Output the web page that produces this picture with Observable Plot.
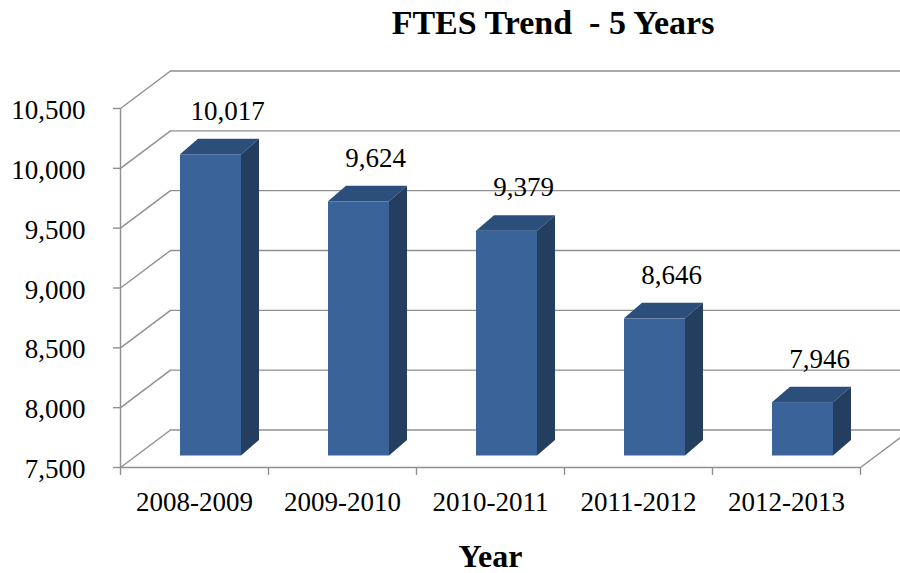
<!DOCTYPE html>
<html>
<head>
<meta charset="utf-8">
<script src="https://cdn.jsdelivr.net/npm/d3@7"></script>
<script src="https://cdn.jsdelivr.net/npm/@observablehq/plot@0.6"></script>
<style>
  html, body { margin: 0; padding: 0; background: #fff; }
  #wrap { width: 900px; height: 573px; position: relative; overflow: hidden; font-family: "Liberation Serif", "Times New Roman", serif; }
  #title { position: absolute; left: 0; top: 0; width: 900px; height: 45px; box-sizing: border-box; padding-left: 206px; text-align: center; font-weight: bold; font-size: 34px; line-height: 45px; color: #000; }
  #chart { position: absolute; left: 0; top: 45px; }
  #chart svg, #chart svg text { font-family: "Liberation Serif", "Times New Roman", serif !important; }
</style>
</head>
<body>
<div id="wrap">
  <div id="title">FTES Trend &nbsp;- 5 Years</div>
  <div id="chart"></div>
</div>
<script>
// ---- data ----
const years = ["2008-2009", "2009-2010", "2010-2011", "2011-2012", "2012-2013"];
const ftes = [10017, 9624, 9379, 8646, 7946];
const yTicks = [7500, 8000, 8500, 9000, 9500, 10000, 10500];
const yTickLabels = ["7,500", "8,000", "8,500", "9,000", "9,500", "10,000", "10,500"];
const xTitle = "Year";

// ---- layout (pixels) ----
const W = 900, H = 528;
const mL = 120, mR = 40, mT = 63, mB = 106;
const yMin = 7500, yMax = 10500;
const kx = (W - mL - mR) / years.length;      // px per category
const ky = (H - mT - mB) / (yMax - yMin);     // px per unit
const px = p => p / kx;                        // px -> x units
const pv = p => p / ky;                        // px -> y units

const wallDX = px(50), wallDY = pv(37.5);      // depth of the 3D box
const barOX = px(16.5), barOY = pv(11.5);      // bar front face offset into box
const barDX = px(18), barDY = pv(15.5);        // bar depth
const barHalf = px(30.5);                      // half width of bar front

const bars = years.map((yr, i) => ({
  i, yr, v: ftes[i],
  xl: i + 0.5 + barOX - barHalf,
  xr: i + 0.5 + barOX + barHalf
}));

const topFace = bars.flatMap(b => [
  {bar: b.i, y: b.v + barOY, x1: b.xl, x2: b.xr},
  {bar: b.i, y: b.v + barOY + barDY, x1: b.xl + barDX, x2: b.xr + barDX}
]);
const sideFace = bars.flatMap(b => [
  {bar: b.i, x: b.xr, y1: yMin + barOY, y2: b.v + barOY},
  {bar: b.i, x: b.xr + barDX, y1: yMin + barOY + barDY, y2: b.v + barOY + barDY}
]);

const grid = "#8f8f8f";
const fmt = d3.format(",");
const serif = "Liberation Serif";

const chart = Plot.plot({
  width: W, height: H,
  marginLeft: mL, marginRight: mR, marginTop: mT, marginBottom: mB,
  style: {fontFamily: serif, background: "#fff", overflow: "visible"},
  x: {type: "linear", domain: [0, years.length], axis: null},
  y: {type: "linear", domain: [yMin, yMax], axis: null},
  marks: [
    // back wall gridlines
    Plot.ruleY(yTicks, {y: d => d + wallDY, x1: wallDX, x2: px(W - mL) + 1, stroke: grid, strokeWidth: 1.4}),
    // side wall oblique lines
    Plot.link(yTicks, {x1: 0, y1: d => d, x2: wallDX, y2: d => d + wallDY, stroke: grid, strokeWidth: 1.4}),
    // left axis line
    Plot.ruleX([0], {y1: yMin, y2: yMax, stroke: grid, strokeWidth: 1.4}),
    // y ticks
    Plot.ruleY(yTicks, {x1: px(-7), x2: 0, stroke: grid, strokeWidth: 1.4}),
    // floor front edge and right diagonal
    Plot.ruleY([yMin], {x1: 0, x2: years.length, stroke: grid, strokeWidth: 1.4}),
    Plot.link([yMin], {x1: years.length, y1: d => d, x2: years.length + wallDX, y2: d => d + wallDY, stroke: grid, strokeWidth: 1.4}),
    // x ticks at category boundaries
    Plot.ruleX(d3.range(years.length + 1), {y1: yMin, y2: yMin - pv(8), stroke: grid, strokeWidth: 1.4}),
    // bars: front, top, side
    Plot.rect(bars, {x1: "xl", x2: "xr", y1: yMin + barOY, y2: d => d.v + barOY, fill: "#3a6499"}),
    Plot.areaX(topFace, {y: "y", x1: "x1", x2: "x2", z: "bar", fill: "#2c4e7a"}),
    Plot.areaY(sideFace, {x: "x", y1: "y1", y2: "y2", z: "bar", fill: "#243e60"}),
    // value labels
    Plot.text(bars, {x: d => d.i + 0.5, y: "v", text: d => fmt(d.v), dx: 33, dy: -55, fontSize: 27, fontFamily: serif, fill: "#000"}),
    // y tick labels
    Plot.text(yTicks, {x: 0, y: d => d, text: (d, i) => yTickLabels[i], textAnchor: "end", dx: -35, dy: 2, fontSize: 27, fontFamily: serif, fill: "#000"}),
    // x tick labels
    Plot.text(years, {x: (d, i) => i + 0.5, y: yMin, text: d => d, dy: 35, fontSize: 27, fontFamily: serif, fill: "#000"}),
    // x title
    Plot.text([xTitle], {x: years.length / 2, y: yMin, text: d => d, dy: 89, fontSize: 32, fontWeight: "bold", fontFamily: serif, fill: "#000"})
  ]
});
document.getElementById("chart").appendChild(chart);
</script>
</body>
</html>
